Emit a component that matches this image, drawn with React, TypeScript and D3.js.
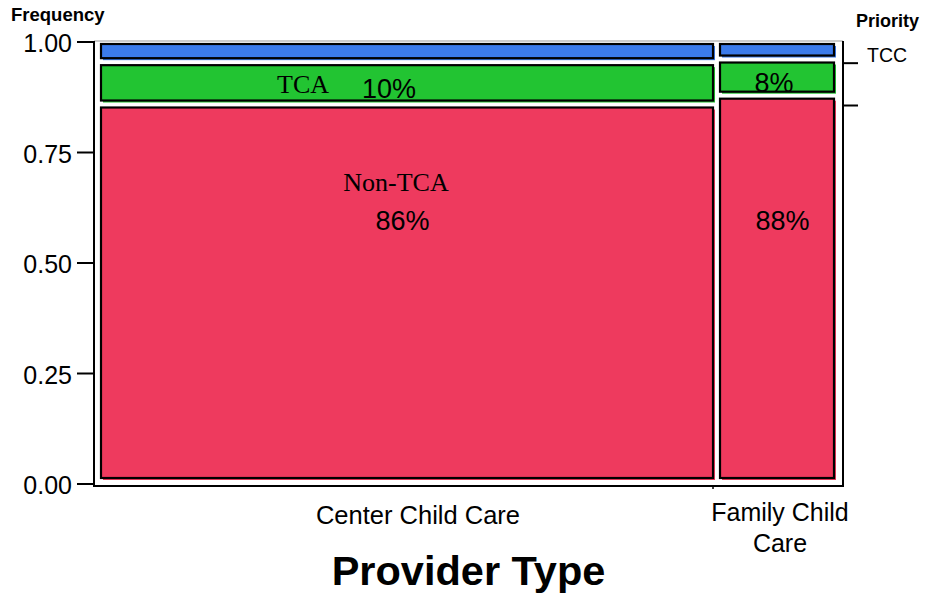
import React from "react";
import * as d3 from "d3";

const providers = ["Center Child Care", "Family Child Care"];
const providerLines = [["Center Child Care"], ["Family Child", "Care"]];
const providerShare = [0.8365, 0.1635];
const priorities = ["Non-TCA", "TCA", "TCC"];
const nonTca = [0.856, 0.876];
const tca = [0.096, 0.082];
const tcc = [0.048, 0.042];
const priorityColors = ["#EE3A5E", "#22C432", "#3B7BEB"];
const yTicks = [0, 0.25, 0.5, 0.75, 1];

const W = 926;
const H = 594;
const SANS = "'Liberation Sans', Arial, Helvetica, sans-serif";
const SERIF = "'Liberation Serif', 'Times New Roman', serif";

export default function App() {
  const frame = { left: 94, right: 843, top: 41, bottom: 486 };
  const x = d3.scaleLinear().domain([0, 1]).range([94, 834]);
  const yAxis = d3.scaleLinear().domain([0, 1]).range([484, 42]);
  const yCell = d3.scaleLinear().domain([0, 1]).range([478, 37]);
  const fmt = d3.format(".0%");
  const tickFmt = d3.format(".2f");

  const rows = providers.map((p, i) => ({
    provider: p,
    "Non-TCA": nonTca[i],
    TCA: tca[i],
    TCC: tcc[i],
  }));
  const stack = d3.stack<any>().keys(priorities)(rows);

  const colStarts = d3.cumsum([0, ...providerShare]);

  const cells: any[] = [];
  providers.forEach((p, ci) => {
    const x0 = x(colStarts[ci]) + 7;
    const x1 = x(colStarts[ci + 1]);
    priorities.forEach((k, ki) => {
      const [b, t] = stack[ki][ci];
      const y0 = yCell(t) + 7;
      const y1 = yCell(b);
      cells.push({ ci, ki, x0, x1, y0, y1, v: t - b });
    });
  });

  const pctDx = [
    [-4.5, -18],
    [5.5, -3],
  ];

  const center0 = cells.find((c) => c.ci === 0 && c.ki === 0);
  const green0 = cells.find((c) => c.ci === 0 && c.ki === 1);
  const cx0 = (center0.x0 + center0.x1) / 2;

  const rightTicks = [stack[0][0][1], stack[1][0][1]];
  const catCenters = providers.map((_, i) => (x(colStarts[i]) + x(colStarts[i + 1])) / 2);
  const catDx = [14.5, 6.5];

  return (
    <svg
      width={W}
      height={H}
      style={{ position: "absolute", left: 0, top: 0, background: "#fff" }}
      fontFamily={SANS}
    >
      <rect x={0} y={0} width={W} height={H} fill="#fff" />
      {/* cells */}
      {cells.map((c, i) => (
        <g key={i}>
          <rect
            x={c.x0 + 2}
            y={c.y0 + 2}
            width={c.x1 - c.x0}
            height={c.y1 - c.y0}
            fill={priorityColors[c.ki]}
          />
          <rect
            x={c.x0}
            y={c.y0}
            width={c.x1 - c.x0}
            height={c.y1 - c.y0}
            fill={priorityColors[c.ki]}
            stroke="#000"
            strokeWidth={2.2}
          />
        </g>
      ))}
      {/* frame */}
      <line x1={frame.left} x2={frame.right} y1={frame.top} y2={frame.top} stroke="#999" strokeWidth={1.2} />
      <line x1={frame.left} x2={frame.left} y1={frame.top} y2={frame.bottom} stroke="#000" strokeWidth={2} />
      <line x1={frame.left - 1} x2={frame.right + 1} y1={frame.bottom} y2={frame.bottom} stroke="#000" strokeWidth={2} />
      <line x1={frame.right} x2={frame.right} y1={frame.top} y2={frame.bottom} stroke="#000" strokeWidth={2} />
      {/* left axis */}
      {yTicks.map((t) => (
        <g key={t}>
          <line x1={77} x2={frame.left} y1={yAxis(t)} y2={yAxis(t)} stroke="#000" strokeWidth={2} />
          <text x={72} y={yAxis(t) + 1} textAnchor="end" dominantBaseline="central" fontSize={25} fill="#000">
            {tickFmt(t)}
          </text>
        </g>
      ))}
      <text x={11} y={21} fontSize={18.5} fontWeight="bold" fill="#000">Frequency</text>
      {/* bottom axis tick */}
      <line x1={x(colStarts[1])} x2={x(colStarts[1])} y1={frame.bottom} y2={frame.bottom + 3} stroke="#000" strokeWidth={1.5} />
      {providerLines.map((lines, i) =>
        lines.map((ln, j) => (
          <text
            key={i + "-" + j}
            x={catCenters[i] + catDx[i]}
            y={(i === 0 ? 524 : 521) + j * 31}
            textAnchor="middle"
            fontSize={i === 0 ? 25.5 : 25}
            fill="#000"
          >
            {ln}
          </text>
        ))
      )}
      <text x={(frame.left + frame.right) / 2} y={585} textAnchor="middle" fontSize={41.5} fontWeight="bold" fill="#000">
        Provider Type
      </text>
      {/* right axis */}
      {rightTicks.map((t, i) => (
        <line key={i} x1={frame.right} x2={858} y1={yCell(t) + 5} y2={yCell(t) + 5} stroke="#000" strokeWidth={2} />
      ))}
      <text x={856} y={27} fontSize={18} fontWeight="bold" fill="#000">Priority</text>
      <text x={867} y={55} dominantBaseline="central" fontSize={19.5} fill="#000">{priorities[2]}</text>
      {/* in-plot level labels */}
      <text x={cx0 - 104} y={(green0.y0 + green0.y1) / 2 + 10.5} textAnchor="middle" fontFamily={SERIF} fontSize={26} fill="#000">
        {priorities[1]}
      </text>
      <text x={cx0 - 11} y={center0.y0 + 83} textAnchor="middle" fontFamily={SERIF} fontSize={26} fill="#000">
        {priorities[0]}
      </text>
      {/* percentages */}
      {cells
        .filter((c) => c.ki < 2)
        .map((c, i) => (
          <text
            key={i}
            x={(c.x0 + c.x1) / 2 + pctDx[c.ci][c.ki]}
            y={c.ki === 0 ? yAxis(0.575) : (c.y0 + c.y1) / 2 + 15}
            textAnchor="middle"
            fontSize={27}
            fill="#000"
          >
            {fmt(c.v)}
          </text>
        ))}
    </svg>
  );
}
